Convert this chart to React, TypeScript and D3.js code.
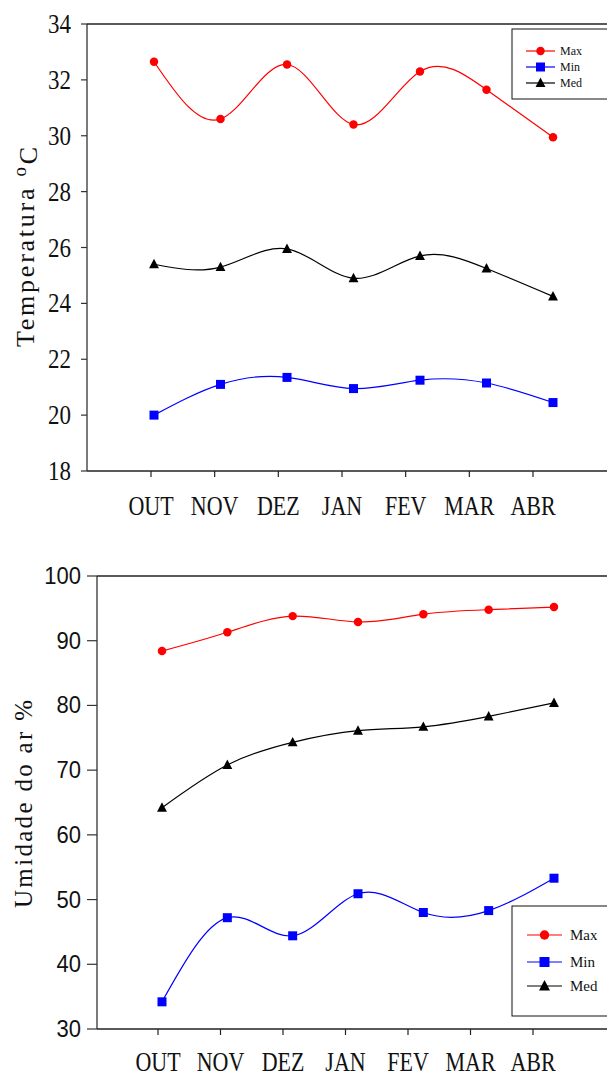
import React from "react";
import * as d3 from "d3";

const months = ["OUT", "NOV", "DEZ", "JAN", "FEV", "MAR", "ABR"];

// temperatura (ºC)
const tempMax = [32.65, 30.6, 32.55, 30.4, 32.3, 31.65, 29.95];
const tempMin = [20.0, 21.1, 21.35, 20.95, 21.25, 21.15, 20.45];
const tempMed = [25.4, 25.3, 25.95, 24.9, 25.7, 25.25, 24.25];
const tempTicks = [18, 20, 22, 24, 26, 28, 30, 32, 34];

// umidade do ar (%)
const umidMax = [88.4, 91.3, 93.8, 92.9, 94.1, 94.8, 95.2];
const umidMin = [34.2, 47.2, 44.4, 50.9, 48.0, 48.3, 53.3];
const umidMed = [64.2, 70.8, 74.3, 76.1, 76.7, 78.3, 80.4];
const umidTicks = [30, 40, 50, 60, 70, 80, 90, 100];

const seriesNames = ["Max", "Min", "Med"];
const seriesColors = ["#ff0000", "#0000ff", "#000000"];

const serif = "'Liberation Serif', 'DejaVu Serif', serif";

const Marker = ({ kind, x, y, s, color }) => {
  if (kind === 0) return <circle cx={x} cy={y} r={s * 0.47} fill={color} />;
  if (kind === 1)
    return <rect x={x - s / 2} y={y - s / 2} width={s} height={s} fill={color} />;
  const h = s;
  return (
    <path
      d={`M${x},${y - h * 0.6}L${x + h * 0.55},${y + h * 0.45}L${x - h * 0.55},${y + h * 0.45}Z`}
      fill={color}
    />
  );
};

const Panel = ({ p }) => {
  const y = d3.scaleLinear().domain(p.domain).range([p.bottom, p.top]);
  const xTick = d3.scalePoint().domain(months).range(p.tickRange);
  const xPt = d3.scalePoint().domain(months).range(p.pointRange);
  const line = d3
    .line()
    .x((d, i) => xPt(months[i]))
    .y((d) => y(d))
    .curve(d3.curveNatural);

  return (
    <g>
      {/* frame: left axis, bottom axis, top border */}
      <line x1={p.left} x2={p.left} y1={p.top} y2={p.bottom} stroke="#333" strokeWidth={1.3} />
      <line x1={p.left} x2={607} y1={p.bottom} y2={p.bottom} stroke="#222" strokeWidth={1.3} />
      <line x1={p.left} x2={607} y1={p.top} y2={p.top} stroke="#222" strokeWidth={1.3} />

      {p.ticks.map((t) => (
        <g key={t}>
          <line x1={p.left - p.tickLen} x2={p.left} y1={y(t)} y2={y(t)} stroke="#333" strokeWidth={1.2} />
          <text
            transform={`translate(${p.tickLabelX},${y(t) + p.tickBase}) scale(1,${p.tickStretch})`}
            textAnchor="end"
            fontFamily={p.tickFont}
            fontSize={p.tickSize}
            fill="#111"
          >
            {t}
          </text>
        </g>
      ))}

      {months.map((m) => (
        <g key={m}>
          <line x1={xTick(m)} x2={xTick(m)} y1={p.bottom} y2={p.bottom + 6} stroke="#222" strokeWidth={1.2} />
          <text
            transform={`translate(${xTick(m)},${p.xLabelY}) scale(1,${p.xStretch})`}
            textAnchor="middle"
            fontFamily={serif}
            fontSize={22}
            fill="#111"
          >
            {m}
          </text>
        </g>
      ))}

      <text
        transform={`translate(${p.titleX},${p.titleY}) rotate(-90)`}
        textAnchor="middle"
        fontFamily={serif}
        fontSize={p.titleSize}
        textLength={p.titleLen}
        lengthAdjust="spacing"
        fill="#111"
      >
        {p.title}
        {p.titleSup && (
          <tspan dy="-0.42em" fontSize={p.titleSize * 0.72}>
            {p.titleSup}
          </tspan>
        )}
        {p.titleSup && <tspan dy="0.42em">{p.titleEnd}</tspan>}
      </text>

      {p.series.map((vals, k) => (
        <g key={k}>
          <path d={line(vals)} fill="none" stroke={seriesColors[k]} strokeWidth={1.2} />
          {vals.map((v, i) => (
            <Marker key={i} kind={k} x={xPt(months[i])} y={y(v)} s={p.markerSize} color={seriesColors[k]} />
          ))}
        </g>
      ))}

      {/* legend */}
      <rect
        x={p.legend.x}
        y={p.legend.y}
        width={p.legend.w}
        height={p.legend.h}
        fill="#fff"
        stroke="#111"
        strokeWidth={1}
      />
      {seriesNames.map((n, k) => {
        const ly = p.legend.rows[k];
        return (
          <g key={n}>
            <line
              x1={p.legend.lx1}
              x2={p.legend.lx2}
              y1={ly}
              y2={ly}
              stroke={seriesColors[k]}
              strokeWidth={1.2}
            />
            <Marker
              kind={k}
              x={(p.legend.lx1 + p.legend.lx2) / 2}
              y={ly}
              s={p.legend.ms}
              color={seriesColors[k]}
            />
            <text
              x={p.legend.tx}
              y={ly}
              dy="0.35em"
              fontFamily={serif}
              fontSize={p.legend.fs}
              fill="#111"
            >
              {n}
            </text>
          </g>
        );
      })}
    </g>
  );
};

const tempPanel = {
  domain: [18, 34],
  top: 24,
  bottom: 471,
  left: 87,
  tickLen: 6,
  ticks: tempTicks,
  tickLabelX: 71,
  tickFont: serif,
  tickSize: 23,
  tickStretch: 1.18,
  tickBase: 9,
  tickRange: [151, 533],
  pointRange: [154, 553],
  xLabelY: 515,
  xStretch: 1.28,
  title: "Temperatura ",
  titleSup: "o",
  titleEnd: "C",
  titleLen: 200,
  titleX: 34,
  titleY: 247,
  titleSize: 26,
  markerSize: 9,
  series: [tempMax, tempMin, tempMed],
  legend: {
    x: 512,
    y: 29,
    w: 100,
    h: 70,
    rows: [51, 67, 83],
    lx1: 526,
    lx2: 555,
    tx: 560,
    fs: 12,
    ms: 9,
  },
};

const umidPanel = {
  domain: [30, 100],
  top: 576,
  bottom: 1029,
  left: 97,
  tickLen: 10,
  ticks: umidTicks,
  tickLabelX: 81,
  tickFont: "'Liberation Sans', Arial, sans-serif",
  tickSize: 22,
  tickStretch: 1.05,
  tickBase: 8,
  tickRange: [158, 533],
  pointRange: [162, 554],
  xLabelY: 1071,
  xStretch: 1.2,
  title: "Umidade do ar %",
  titleLen: 208,
  titleX: 32,
  titleY: 804,
  titleSize: 25,
  markerSize: 9,
  series: [umidMax, umidMin, umidMed],
  legend: {
    x: 512,
    y: 906,
    w: 100,
    h: 110,
    rows: [935, 962, 986],
    lx1: 527,
    lx2: 562,
    tx: 570,
    fs: 15,
    ms: 10,
  },
};

export default function App() {
  return (
    <svg
      width={607}
      height={1077}
      style={{ position: "absolute", left: 0, top: 0, background: "#fff" }}
    >
      <Panel p={tempPanel} />
      <Panel p={umidPanel} />
    </svg>
  );
}
